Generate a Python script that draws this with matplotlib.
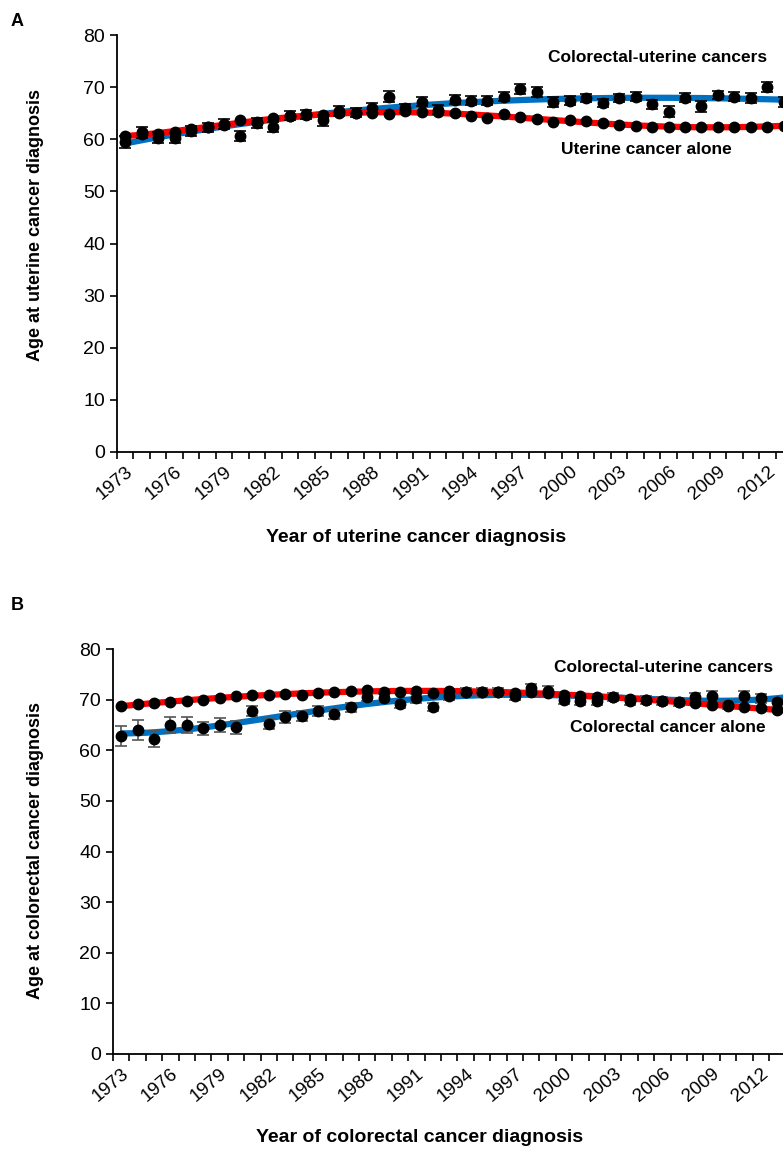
import numpy as np
import matplotlib.pyplot as plt

plt.rcParams['font.family'] = ['Liberation Sans', 'DejaVu Sans']

years = np.arange(1973, 2014)
tick_years = np.arange(1973, 2013, 3)

# panel A: age at uterine cancer diagnosis
uterine_alone = [60.7, 61.0, 61.0, 61.4, 61.9, 62.4, 62.8, 63.6, 63.3, 64.0,
                 64.4, 64.7, 64.6, 65.0, 65.0, 65.0, 64.9, 65.4, 65.3, 65.2,
                 65.0, 64.5, 64.0, 64.9, 64.2, 63.8, 63.4, 63.7, 63.5, 63.2,
                 62.8, 62.5, 62.4, 62.4, 62.3, 62.3, 62.3, 62.4, 62.4, 62.4, 62.6]
cu_uterine = [59.5, 61.3, 60.3, 60.2, 61.6, 62.3, 62.9, 60.6, 63.1, 62.4,
              64.5, 64.8, 63.6, 65.4, 65.1, 66.0, 68.2, 65.9, 67.2, 65.7,
              67.6, 67.4, 67.4, 68.2, 69.6, 69.1, 67.2, 67.4, 67.9, 66.9,
              67.9, 68.2, 66.7, 65.3, 68.0, 66.3, 68.5, 68.2, 67.9, 70.0, 67.1]
cu_uterine_err = [1.2, 1.1, 1.0, 1.0, 0.9, 0.9, 1.0, 0.9, 1.0, 1.0,
                  0.9, 0.9, 1.0, 0.9, 0.9, 0.9, 1.0, 0.8, 0.9, 0.9,
                  0.9, 0.9, 0.9, 0.8, 1.0, 1.0, 1.0, 0.9, 0.8, 0.8,
                  0.8, 0.8, 0.9, 1.0, 0.9, 1.0, 0.8, 0.8, 0.9, 0.9, 1.0]

# panel B: age at colorectal cancer diagnosis
colorectal_alone = [68.7, 69.1, 69.4, 69.5, 69.8, 70.0, 70.3, 70.7, 70.9, 71.0,
                    71.1, 71.0, 71.3, 71.6, 71.7, 71.9, 71.6, 71.6, 71.8, 71.3,
                    71.7, 71.6, 71.5, 71.6, 71.4, 71.6, 71.3, 71.0, 70.8, 70.6,
                    70.5, 70.1, 70.0, 69.7, 69.5, 69.3, 69.0, 68.7, 68.5, 68.3, 67.9]
cu_colorectal = [62.8, 64.0, 62.2, 65.0, 65.0, 64.3, 65.0, 64.5, 67.8, 65.2,
                 66.5, 66.8, 67.8, 67.2, 68.5, 70.6, 70.3, 69.2, 70.3, 68.5,
                 70.8, 71.5, 71.5, 71.5, 70.8, 72.3, 71.8, 70.0, 69.8, 69.8,
                 70.5, 69.8, 70.0, 69.7, 69.5, 70.5, 70.8, 69.0, 70.8, 70.3, 69.5]
cu_colorectal_err = [2.0, 2.0, 1.6, 1.5, 1.5, 1.3, 1.4, 1.3, 1.0, 1.0,
                     1.2, 1.0, 1.0, 1.0, 0.9, 0.9, 0.9, 0.8, 0.9, 0.8,
                     0.8, 0.8, 0.8, 0.8, 0.8, 0.7, 0.8, 0.8, 0.8, 0.8,
                     0.8, 0.8, 0.8, 0.8, 0.8, 0.9, 0.9, 0.8, 0.9, 0.9, 0.9]

RED = '#FF0000'
BLUE = '#0070C0'

fig = plt.figure(figsize=(7.83, 11.49), dpi=100)


def trend(x, y, deg):
    c = np.polyfit(x - 1993, y, deg)
    xs = np.linspace(x[0], x[-1] + 1, 300)
    return xs, np.polyval(c, xs - 1993)


def panel(rect, alone, cu, cu_err, xmax, ecol, blue_deg):
    ax = fig.add_axes(rect)
    xs, ys = trend(years, np.array(cu), blue_deg)
    ax.plot(xs, ys, color=BLUE, lw=4.5, solid_capstyle='butt', zorder=2)
    xs, ys = trend(years, np.array(alone), 5)
    ax.plot(xs, ys, color=RED, lw=4.5, solid_capstyle='butt', zorder=2)
    ax.errorbar(years, cu, yerr=cu_err, fmt='none', ecolor=ecol,
                elinewidth=1.2, capsize=4, capthick=1.2, zorder=3)
    ax.plot(years, alone, 'o', color='black', ms=7.5, zorder=4, clip_on=False)
    ax.plot(years, cu, 'o', color='black', ms=7.5, zorder=4, clip_on=False)

    ax.set_xlim(1972.5, xmax)
    ax.set_ylim(0, 80)
    ax.set_yticks(range(0, 81, 10))
    ax.set_xticks(tick_years)
    ax.set_xticklabels([str(y) for y in tick_years], rotation=40,
                       ha='right', va='top', rotation_mode='anchor', fontsize=13.5)
    ax.set_xticks(np.arange(1972.5, xmax, 1), minor=True)
    ax.tick_params(axis='x', which='major', length=0, pad=8)
    ax.tick_params(axis='x', which='minor', length=5, width=1.2, direction='out')
    ax.tick_params(axis='y', length=5, width=1.2, direction='out', labelsize=14)
    for s in ('top', 'right'):
        ax.spines[s].set_visible(False)
    for s in ('left', 'bottom'):
        ax.spines[s].set_linewidth(1.3)
    return ax


axA = panel([117 / 783, 1 - 452 / 1149, 1 - 117 / 783, (452 - 35) / 1149],
            uterine_alone, cu_uterine, cu_uterine_err, 2012.95, 'black', 3)
axB = panel([113 / 783, 1 - 1054 / 1149, 1 - 113 / 783, (1054 - 649) / 1149],
            colorectal_alone, cu_colorectal, cu_colorectal_err, 2013.35, '#555555', 4)

fig.text(0.045, 0.804, 'Age at uterine cancer diagnosis', rotation=90,
         ha='center', va='center', fontweight='bold', fontsize=13)
fig.text(0.045, 0.26, 'Age at colorectal cancer diagnosis', rotation=90,
         ha='center', va='center', fontweight='bold', fontsize=13)
fig.text(0.531, 1 - 537 / 1149, 'Year of uterine cancer diagnosis',
         ha='center', va='center', fontweight='bold', fontsize=14)
fig.text(0.536, 1 - 1138 / 1149, 'Year of colorectal cancer diagnosis',
         ha='center', va='center', fontweight='bold', fontsize=14)

note = dict(ha='center', va='center', fontweight='bold', fontsize=12.5)
fig.text(0.840, 1 - 57 / 1149, 'Colorectal-uterine cancers', **note)
fig.text(0.826, 1 - 150 / 1149, 'Uterine cancer alone', **note)
fig.text(0.847, 1 - 668 / 1149, 'Colorectal-uterine cancers', **note)
fig.text(0.853, 1 - 728 / 1149, 'Colorectal cancer alone', **note)

fig.text(0.022, 1 - 22 / 1149, 'A', ha='center', va='center', fontweight='bold', fontsize=13)
fig.text(0.022, 1 - 606 / 1149, 'B', ha='center', va='center', fontweight='bold', fontsize=13)

fig.savefig('out.png', dpi=100)
